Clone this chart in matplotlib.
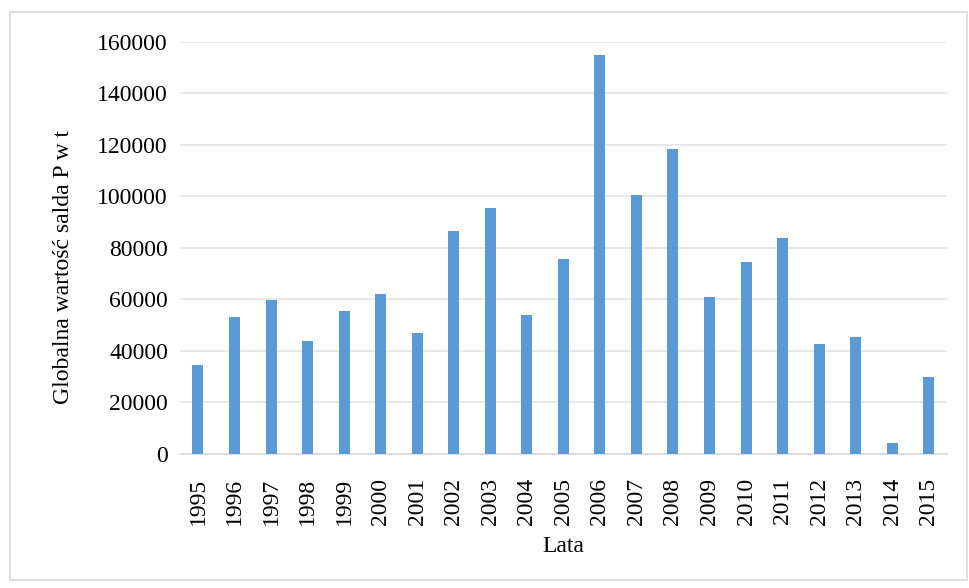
import matplotlib
matplotlib.use("Agg")
import matplotlib.pyplot as plt
from matplotlib.patches import Rectangle

years = ["1995", "1996", "1997", "1998", "1999", "2000", "2001", "2002", "2003", "2004",
         "2005", "2006", "2007", "2008", "2009", "2010", "2011", "2012", "2013", "2014", "2015"]
values = [34500, 53000, 59700, 43900, 55400, 62000, 47000, 86600, 95500, 54100,
          75500, 155000, 100500, 118200, 61000, 74500, 84000, 42500, 45500, 4400, 30000]
yticks = [0, 20000, 40000, 60000, 80000, 100000, 120000, 140000, 160000]

W, H = 969, 588
fig = plt.figure(figsize=(W / 100, H / 100), dpi=100)
plt.rcParams['font.family'] = ['Liberation Serif', 'DejaVu Serif']
fs = 17

# outer chart frame
fig.patches.append(Rectangle((10 / W, 1 - 580 / H), 957 / W, 568 / H,
                             transform=fig.transFigure, fill=False,
                             edgecolor="#d9d9d9", linewidth=1.2))

ax = fig.add_axes([179.7 / W, 1 - 454 / H, (947 - 179.7) / W, (454 - 41.7) / H])
x = list(range(len(years)))
ax.bar(x, values, width=0.3, color="#5b9bd5", zorder=3)

ax.set_xlim(-0.5, len(years) - 0.5)
ax.set_ylim(0, 160000)
ax.set_yticks(yticks)
ax.set_yticklabels([str(v) for v in yticks], fontsize=fs)
ax.set_xticks(x)
ax.set_xticklabels(years, rotation=90, fontsize=fs)
ax.tick_params(axis="x", length=0, pad=17)
ax.tick_params(axis="y", length=0, pad=8.5)
ax.grid(axis="y", color="#e4e4e4", linewidth=1.2, zorder=0)
for s in ["top", "right", "left"]:
    ax.spines[s].set_visible(False)
ax.spines["bottom"].set_color("#d9d9d9")
ax.spines["bottom"].set_linewidth(1.2)

fig.text(64 / W, 1 - 267 / H, "Globalna wartość salda P w t", rotation=90,
         ha="center", va="center", fontsize=fs)
fig.text(563 / W, 1 - 546 / H, "Lata", ha="center", va="center", fontsize=fs)

fig.savefig("out.png", dpi=100)
